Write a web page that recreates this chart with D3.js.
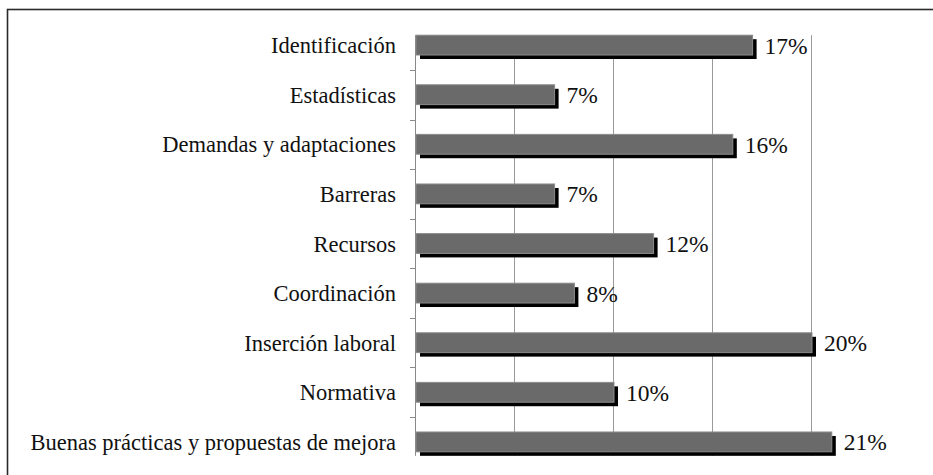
<!DOCTYPE html>
<meta charset="utf-8">
<style>
body { margin: 0; background: #fff; }
.grid line { stroke: #9a9a9a; stroke-width: 1px; }
</style>
<svg width="933" height="475"></svg>
<script src="https://d3js.org/d3.v7.min.js"></script>
<script>
// categories and their shares (%)
var categories = ["Identificación", "Estadísticas", "Demandas y adaptaciones", "Barreras",
  "Recursos", "Coordinación", "Inserción laboral", "Normativa",
  "Buenas prácticas y propuestas de mejora"];
var values = [17, 7, 16, 7, 12, 8, 20, 10, 21];
var gridTicks = [5, 10, 15, 20];

var serif = "'Liberation Serif', 'DejaVu Serif', serif";
var svg = d3.select("svg");

// outer frame (runs off the right and bottom edges)
svg.append("rect")
    .attr("x", 7.5).attr("y", 9.5)
    .attr("width", 940).attr("height", 470)
    .attr("fill", "none")
    .attr("stroke", "#2a2a2a")
    .attr("stroke-width", 1.6);

var x = d3.scaleLinear().domain([0, 25]).range([415, 910]);
var y = d3.scaleBand()
    .domain(categories)
    .range([20.3, 466.7])
    .paddingInner(0.6)
    .paddingOuter(0.3);

var step = y.step(), bh = y.bandwidth();
var plotTop = y(categories[0]);
var plotBottom = y(categories[categories.length - 1]) + bh + 4;

// vertical gridlines
svg.append("g").attr("class", "grid")
  .selectAll("line")
  .data(gridTicks)
  .enter().append("line")
    .attr("x1", function(d) { return Math.round(x(d)) + 0.5; })
    .attr("x2", function(d) { return Math.round(x(d)) + 0.5; })
    .attr("y1", plotTop)
    .attr("y2", plotBottom);

// category axis line + ticks between bands
svg.append("line")
    .attr("x1", x(0) + 0.5).attr("x2", x(0) + 0.5)
    .attr("y1", plotTop).attr("y2", plotBottom)
    .attr("stroke", "#8a8a8a");

svg.append("g")
  .selectAll("line")
  .data(categories.slice(1))
  .enter().append("line")
    .attr("x1", x(0) - 5).attr("x2", x(0))
    .attr("y1", function(d) { return Math.round(y(d) - step * 0.3) + 0.5; })
    .attr("y2", function(d) { return Math.round(y(d) - step * 0.3) + 0.5; })
    .attr("stroke", "#8a8a8a");

var rows = svg.append("g")
  .selectAll("g")
  .data(categories)
  .enter().append("g");

// dark depth face
rows.append("rect")
    .attr("x", x(0) + 5)
    .attr("y", function(d) { return y(d) + 4; })
    .attr("width", function(d, i) { return x(values[i]) - x(0); })
    .attr("height", bh)
    .attr("fill", "#000");

// front face
rows.append("rect")
    .attr("x", x(0) + 1)
    .attr("y", function(d) { return y(d); })
    .attr("width", function(d, i) { return x(values[i]) - x(0); })
    .attr("height", bh)
    .attr("fill", "#6a6a6a")
    .attr("stroke", "#8c8c8c")
    .attr("stroke-width", 1);

// category labels
rows.append("text")
    .attr("x", 396)
    .attr("y", function(d) { return y(d) + bh / 2; })
    .attr("dy", "0.36em")
    .attr("text-anchor", "end")
    .attr("font-family", serif)
    .attr("font-size", 22.5)
    .attr("fill", "#111")
    .text(function(d) { return d; });

// value labels
rows.append("text")
    .attr("x", function(d, i) { return x(values[i]) + 13; })
    .attr("y", function(d) { return y(d) + bh / 2; })
    .attr("dy", "0.36em")
    .attr("font-family", serif)
    .attr("font-size", 23.5)
    .attr("fill", "#111")
    .text(function(d, i) { return values[i] + "%"; });
</script>
